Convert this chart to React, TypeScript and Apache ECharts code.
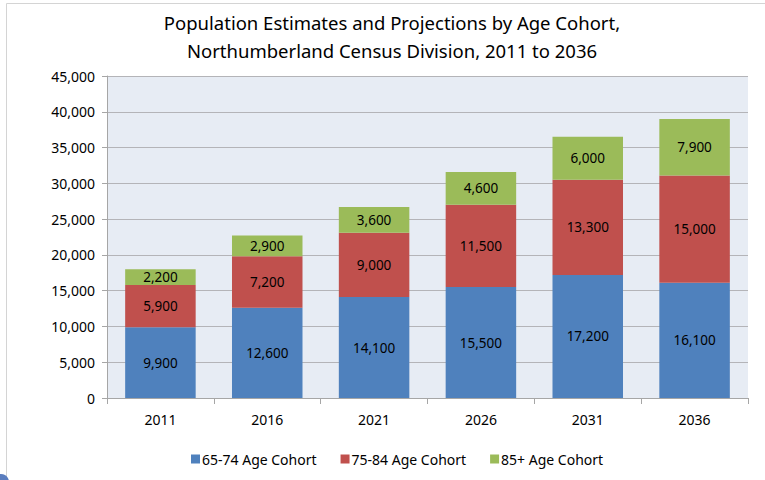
import React, { useEffect, useRef } from "react";
import * as echarts from "echarts";

const years = ["2011", "2016", "2021", "2026", "2031", "2036"];
const cohort6574 = [9900, 12600, 14100, 15500, 17200, 16100];
const cohort7584 = [5900, 7200, 9000, 11500, 13300, 15000];
const cohort85 = [2200, 2900, 3600, 4600, 6000, 7900];
const seriesNames = ["65-74 Age Cohort", "75-84 Age Cohort", "85+ Age Cohort"];
const titleText = "Population Estimates and Projections by Age Cohort,\nNorthumberland Census Division, 2011 to 2036";

const FONT = "'Noto Sans', sans-serif";

export default function App() {
  const ref = useRef<HTMLDivElement>(null);
  useEffect(() => {
    if (!ref.current) return;
    const chart = echarts.init(ref.current, null, { renderer: "svg" });
    const fmt = (v: number) => v.toLocaleString("en-US");
    const label = {
      show: true,
      position: "inside",
      color: "#000",
      fontSize: 13.5,
      fontFamily: FONT,
      formatter: (p: any) => fmt(p.value),
    };
    const mk = (name: string, data: number[], color: string) => ({
      name,
      type: "bar",
      stack: "total",
      data,
      barWidth: "66%",
      itemStyle: { color },
      label,
    });
    chart.setOption({
      animation: false,
      backgroundColor: "#fff",
      textStyle: { fontFamily: FONT },
      title: {
        text: titleText,
        left: 387,
        textAlign: "center",
        top: 3,
        textStyle: { fontSize: 18.5, fontWeight: "normal", color: "#000", lineHeight: 28, fontFamily: FONT },
      },
      legend: {
        bottom: 9,
        left: 186,
        itemWidth: 9,
        itemHeight: 9,
        itemGap: 24,
        icon: "rect",
        textStyle: { fontSize: 14, color: "#000", fontFamily: FONT, padding: [0, 0, 0, -3] },
        data: seriesNames,
      },
      grid: {
        left: 107,
        right: 17,
        top: 76,
        bottom: 82,
        show: true,
        backgroundColor: "#E7ECF4",
        borderWidth: 0,
      },
      xAxis: {
        type: "category",
        data: years,
        axisLine: { lineStyle: { color: "#A6A6A6" } },
        axisTick: { show: true, length: 6, lineStyle: { color: "#A6A6A6" } },
        axisLabel: { color: "#000", fontSize: 14, margin: 14, fontFamily: FONT },
      },
      yAxis: {
        type: "value",
        min: 0,
        max: 45000,
        interval: 5000,
        axisLine: { show: true, lineStyle: { color: "#A6A6A6" } },
        axisTick: { show: true, length: 5, lineStyle: { color: "#A6A6A6" } },
        splitLine: { lineStyle: { color: "#B4B4B8", width: 1 } },
        axisLabel: { color: "#000", fontSize: 14, margin: 12, fontFamily: FONT, formatter: (v: number) => fmt(v) },
      },
      graphic: [
        {
          type: "rect",
          shape: { x: 6.5, y: 3.5, width: 900, height: 900 },
          style: { fill: "none", stroke: "#D4D4D4", lineWidth: 1 },
          z: 100,
        },
        {
          type: "circle",
          shape: { cx: 1, cy: 482, r: 8 },
          style: { fill: "#5A7DBE" },
          z: 100,
        },
      ],
      series: [
        mk(seriesNames[0], cohort6574, "#4F81BD"),
        mk(seriesNames[1], cohort7584, "#C0504D"),
        mk(seriesNames[2], cohort85, "#9BBB59"),
      ],
    });
    return () => chart.dispose();
  }, []);
  return <div ref={ref} style={{ width: 765, height: 480, position: "absolute", left: 0, top: 0 }} />;
}
